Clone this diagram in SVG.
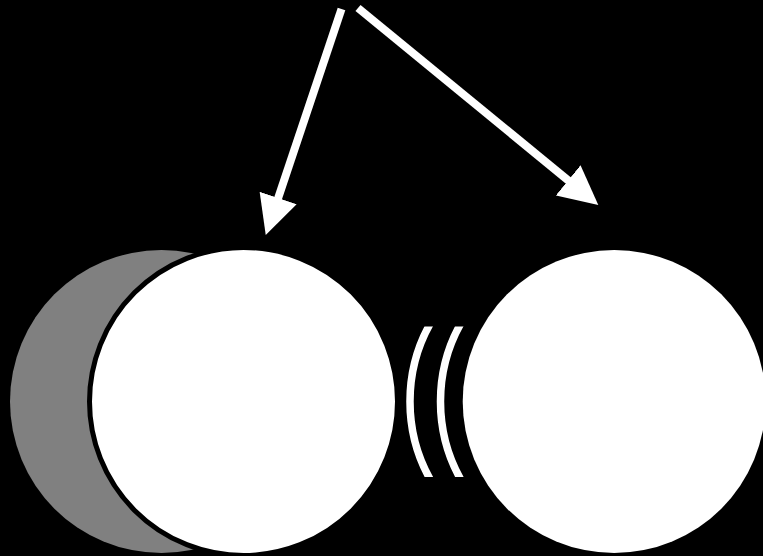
<svg xmlns="http://www.w3.org/2000/svg" width="763" height="556" viewBox="0 0 763 556">
  <style>
    .conn { stroke: #ffffff; stroke-width: 8; fill: none; }
    .wave { stroke: #ffffff; stroke-width: 7.5; fill: none; }
  </style>
  <defs>
    <marker id="head" markerUnits="userSpaceOnUse" viewBox="0 0 39 39" markerWidth="39" markerHeight="39" refX="2" refY="19.5" orient="auto">
      <path d="M0,0 L39,19.5 L0,39 Z" fill="#ffffff"/>
    </marker>
    <clipPath id="waveClip">
      <rect x="395" y="326.5" width="80" height="150.5"/>
    </clipPath>
  </defs>
  <rect x="0" y="0" width="763" height="556" fill="#000000"/>

  <g id="shadow">
    <circle cx="161.5" cy="401.5" r="151.5" fill="#808080"/>
  </g>
  <g id="left-circle">
    <circle cx="243.5" cy="401.5" r="154" fill="#ffffff" stroke="#000000" stroke-width="5"/>
  </g>
  <g id="right-circle">
    <circle cx="614.2" cy="401.5" r="151.5" fill="#ffffff"/>
  </g>
  <g id="waves" clip-path="url(#waveClip)">
    <path class="wave" d="M437.7,311.5 A160,160 0 0 0 437.7,491.5"/>
    <path class="wave" d="M468.2,311.5 A160,160 0 0 0 468.2,491.5"/>
  </g>
  <g id="connectors">
    <line class="conn" x1="341.5" y1="9" x2="277.5" y2="199.9" marker-end="url(#head)"/>
    <line class="conn" x1="358" y1="8" x2="569.7" y2="181.6" marker-end="url(#head)"/>
  </g>
</svg>
